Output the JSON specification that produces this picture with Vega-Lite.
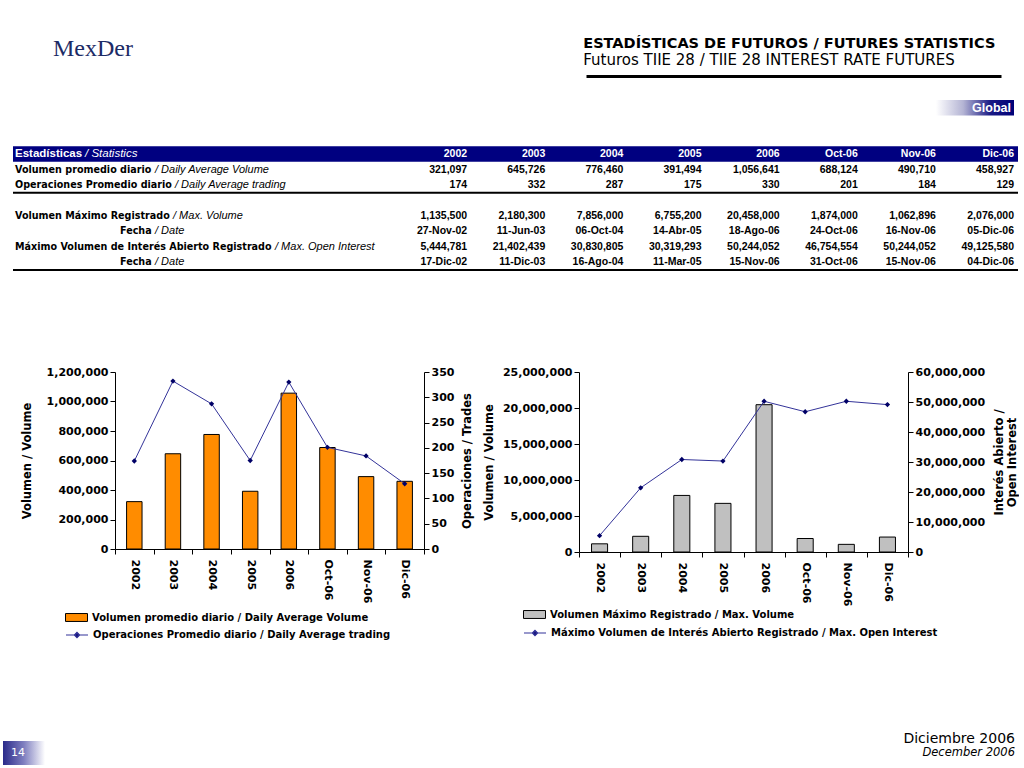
{
  "$schema": "https://vega.github.io/schema/vega-lite/v6.json",
  "padding": 0,
  "background": "white",
  "bounds": "flush",
  "spacing": 0,
  "config": {
    "view": {"stroke": null},
    "font": "DejaVu Sans",
    "axis": {
      "labelFont": "DejaVu Sans", "labelFontWeight": "bold", "labelFontSize": 11, "labelColor": "black",
      "titleFont": "DejaVu Sans", "titleFontWeight": "bold", "titleFontSize": 11.5, "titleColor": "black",
      "domainColor": "black", "tickColor": "black", "grid": false, "tickSize": 5, "labelPadding": 2, "titlePadding": 8
    },
    "legend": {
      "labelFont": "DejaVu Sans", "labelFontWeight": "bold", "labelFontSize": 10, "labelColor": "black", "labelLimit": 600,
      "labelOffset": 4, "symbolSize": 484, "symbolOpacity": 1, "orient": "none", "title": null
    }
  },
  "datasets": {
    "stats": [
      {"period": "2002", "avgVolume": 321097, "avgTrades": 174, "maxVolume": 1135500, "maxVolumeDate": "27-Nov-02", "maxOI": 5444781, "maxOIDate": "17-Dic-02"},
      {"period": "2003", "avgVolume": 645726, "avgTrades": 332, "maxVolume": 2180300, "maxVolumeDate": "11-Jun-03", "maxOI": 21402439, "maxOIDate": "11-Dic-03"},
      {"period": "2004", "avgVolume": 776460, "avgTrades": 287, "maxVolume": 7856000, "maxVolumeDate": "06-Oct-04", "maxOI": 30830805, "maxOIDate": "16-Ago-04"},
      {"period": "2005", "avgVolume": 391494, "avgTrades": 175, "maxVolume": 6755200, "maxVolumeDate": "14-Abr-05", "maxOI": 30319293, "maxOIDate": "11-Mar-05"},
      {"period": "2006", "avgVolume": 1056641, "avgTrades": 330, "maxVolume": 20458000, "maxVolumeDate": "18-Ago-06", "maxOI": 50244052, "maxOIDate": "15-Nov-06"},
      {"period": "Oct-06", "avgVolume": 688124, "avgTrades": 201, "maxVolume": 1874000, "maxVolumeDate": "24-Oct-06", "maxOI": 46754554, "maxOIDate": "31-Oct-06"},
      {"period": "Nov-06", "avgVolume": 490710, "avgTrades": 184, "maxVolume": 1062896, "maxVolumeDate": "16-Nov-06", "maxOI": 50244052, "maxOIDate": "15-Nov-06"},
      {"period": "Dic-06", "avgVolume": 458927, "avgTrades": 129, "maxVolume": 2076000, "maxVolumeDate": "05-Dic-06", "maxOI": 49125580, "maxOIDate": "04-Dic-06"}
    ],
    "labels": [
      {"row": "hdr", "level": "main", "es": "Estadísticas", "en": "/ Statistics"},
      {"row": "r1", "level": "main", "es": "Volumen promedio diario", "en": "/ Daily Average Volume"},
      {"row": "r2", "level": "main", "es": "Operaciones Promedio diario", "en": "/ Daily Average trading"},
      {"row": "r3", "level": "main", "es": "Volumen Máximo Registrado", "en": "/ Max. Volume"},
      {"row": "r4", "level": "sub", "es": "Fecha", "en": "/ Date"},
      {"row": "r5", "level": "main", "es": "Máximo Volumen de Interés Abierto Registrado", "en": "/ Max. Open Interest"},
      {"row": "r6", "level": "sub", "es": "Fecha", "en": "/ Date"}
    ],
    "tags": [{"tag": "Global", "period": "Dic-06"}],
    "page": [{"page": "14"}]
  },
  "vconcat": [
    {"width": 1, "height": 76, "data": {"values": [{}]}, "mark": {"type": "point", "opacity": 0}},
    {
      "hconcat": [
        {"width": 50, "height": 24, "data": {"values": [{}]}, "mark": {"type": "point", "opacity": 0}},
        {"width": 533, "height": 24, "data": {"values": [{}]}, "mark": {"type": "point", "opacity": 0},
         "title": {"text": "MexDer", "anchor": "start", "font": "Liberation Serif", "fontSize": 24, "fontWeight": "normal", "color": "#1C2B66", "offset": 15}},
        {"width": 415, "height": 24, "data": {"values": [{}]}, "mark": {"type": "point", "opacity": 0},
         "encoding": {"x": {"datum": 0, "type": "quantitative", "scale": {"domain": [0, 1]},
           "axis": {"orient": "top", "domain": true, "domainColor": "black", "domainWidth": 3, "ticks": false, "labels": false, "title": null, "grid": false}}},
         "title": {"text": "ESTADÍSTICAS DE FUTUROS / FUTURES STATISTICS", "subtitle": "Futuros TIIE 28 / TIIE 28 INTEREST RATE FUTURES",
           "anchor": "start", "font": "DejaVu Sans", "fontSize": 14.5, "fontWeight": "bold", "color": "black",
           "subtitleFont": "DejaVu Sans", "subtitleFontSize": 15, "subtitleColor": "black", "subtitlePadding": 2, "offset": 7}}
      ],
      "spacing": 0, "bounds": "flush"
    },
    {"width": 1, "height": 24, "data": {"values": [{}]}, "mark": {"type": "point", "opacity": 0}},
    {
      "hconcat": [
        {"width": 10, "height": 170, "data": {"values": [{}]}, "mark": {"type": "point", "opacity": 0}},
        {
          "width": 1005, "height": 170,
          "layer": [
            {"data": {"name": "labels"}, "transform": [{"filter": "datum.row === 'hdr'"}],
             "mark": {"type": "rect", "fill": "#000080"},
             "encoding": {"y": {"field": "row", "type": "nominal", "axis": null,
               "scale": {"type": "band", "domain": ["global", "s1", "s2", "hdr", "r1", "r2", "gap", "r3", "r4", "r5", "r6"], "paddingInner": 0, "paddingOuter": 0}}}},
            {"data": {"name": "labels"}, "transform": [{"filter": "datum.row === 'r2' || datum.row === 'r6'"}],
             "mark": {"type": "rule", "color": "black", "strokeWidth": 2},
             "encoding": {"y": {"field": "row", "type": "nominal", "bandPosition": 1}}},
            {"data": {"name": "tags"},
             "mark": {"type": "rect", "fill": {"gradient": "linear", "x1": 0, "x2": 1, "y1": 0, "y2": 0,
               "stops": [{"offset": 0, "color": "#FFFFFF"}, {"offset": 0.35, "color": "#B4B4D4"}, {"offset": 0.7, "color": "#1A1A84"}, {"offset": 1, "color": "#000078"}]}},
             "encoding": {"y": {"datum": "global", "type": "nominal"},
               "x": {"field": "period", "type": "ordinal", "axis": null,
                 "scale": {"type": "band", "domain": ["2002", "2003", "2004", "2005", "2006", "Oct-06", "Nov-06", "Dic-06"], "range": [376, 1001], "paddingInner": 0, "paddingOuter": 0}}}},
            {"data": {"name": "tags"},
             "mark": {"type": "text", "align": "right", "dx": -3, "font": "Liberation Sans", "fontWeight": "bold", "fontSize": 12.5, "color": "white"},
             "encoding": {"y": {"datum": "global", "type": "nominal"}, "text": {"field": "tag"},
               "x": {"field": "period", "type": "ordinal", "bandPosition": 1, "axis": null,
                 "scale": {"type": "band", "domain": ["2002", "2003", "2004", "2005", "2006", "Oct-06", "Nov-06", "Dic-06"], "range": [376, 1001], "paddingInner": 0, "paddingOuter": 0}}}},
            {"data": {"name": "stats"},
             "mark": {"type": "text", "align": "right", "font": "Liberation Sans", "fontWeight": "bold", "fontSize": 10.5, "color": "white"},
             "encoding": {"y": {"datum": "hdr", "type": "nominal"}, "text": {"field": "period"},
               "x": {"field": "period", "type": "ordinal", "bandPosition": 1, "axis": null,
                 "scale": {"type": "band", "domain": ["2002", "2003", "2004", "2005", "2006", "Oct-06", "Nov-06", "Dic-06"], "range": [376, 1001], "paddingInner": 0, "paddingOuter": 0}}}},
            {"data": {"name": "stats"},
             "mark": {"type": "text", "align": "right", "font": "Liberation Sans", "fontWeight": "bold", "fontSize": 10.5, "color": "black"},
             "encoding": {"y": {"datum": "r1", "type": "nominal"}, "text": {"field": "avgVolume", "type": "quantitative", "format": ","},
               "x": {"field": "period", "type": "ordinal", "bandPosition": 1, "axis": null,
                 "scale": {"type": "band", "domain": ["2002", "2003", "2004", "2005", "2006", "Oct-06", "Nov-06", "Dic-06"], "range": [376, 1001], "paddingInner": 0, "paddingOuter": 0}}}},
            {"data": {"name": "stats"},
             "mark": {"type": "text", "align": "right", "font": "Liberation Sans", "fontWeight": "bold", "fontSize": 10.5, "color": "black"},
             "encoding": {"y": {"datum": "r2", "type": "nominal"}, "text": {"field": "avgTrades", "type": "quantitative", "format": ","},
               "x": {"field": "period", "type": "ordinal", "bandPosition": 1, "axis": null,
                 "scale": {"type": "band", "domain": ["2002", "2003", "2004", "2005", "2006", "Oct-06", "Nov-06", "Dic-06"], "range": [376, 1001], "paddingInner": 0, "paddingOuter": 0}}}},
            {"data": {"name": "stats"},
             "mark": {"type": "text", "align": "right", "font": "Liberation Sans", "fontWeight": "bold", "fontSize": 10.5, "color": "black"},
             "encoding": {"y": {"datum": "r3", "type": "nominal"}, "text": {"field": "maxVolume", "type": "quantitative", "format": ","},
               "x": {"field": "period", "type": "ordinal", "bandPosition": 1, "axis": null,
                 "scale": {"type": "band", "domain": ["2002", "2003", "2004", "2005", "2006", "Oct-06", "Nov-06", "Dic-06"], "range": [376, 1001], "paddingInner": 0, "paddingOuter": 0}}}},
            {"data": {"name": "stats"},
             "mark": {"type": "text", "align": "right", "font": "Liberation Sans", "fontWeight": "bold", "fontSize": 10.5, "color": "black"},
             "encoding": {"y": {"datum": "r4", "type": "nominal"}, "text": {"field": "maxVolumeDate", "type": "nominal"},
               "x": {"field": "period", "type": "ordinal", "bandPosition": 1, "axis": null,
                 "scale": {"type": "band", "domain": ["2002", "2003", "2004", "2005", "2006", "Oct-06", "Nov-06", "Dic-06"], "range": [376, 1001], "paddingInner": 0, "paddingOuter": 0}}}},
            {"data": {"name": "stats"},
             "mark": {"type": "text", "align": "right", "font": "Liberation Sans", "fontWeight": "bold", "fontSize": 10.5, "color": "black"},
             "encoding": {"y": {"datum": "r5", "type": "nominal"}, "text": {"field": "maxOI", "type": "quantitative", "format": ","},
               "x": {"field": "period", "type": "ordinal", "bandPosition": 1, "axis": null,
                 "scale": {"type": "band", "domain": ["2002", "2003", "2004", "2005", "2006", "Oct-06", "Nov-06", "Dic-06"], "range": [376, 1001], "paddingInner": 0, "paddingOuter": 0}}}},
            {"data": {"name": "stats"},
             "mark": {"type": "text", "align": "right", "font": "Liberation Sans", "fontWeight": "bold", "fontSize": 10.5, "color": "black"},
             "encoding": {"y": {"datum": "r6", "type": "nominal"}, "text": {"field": "maxOIDate", "type": "nominal"},
               "x": {"field": "period", "type": "ordinal", "bandPosition": 1, "axis": null,
                 "scale": {"type": "band", "domain": ["2002", "2003", "2004", "2005", "2006", "Oct-06", "Nov-06", "Dic-06"], "range": [376, 1001], "paddingInner": 0, "paddingOuter": 0}}}},
            {"data": {"name": "labels"}, "transform": [{"filter": "datum.row === 'hdr'"}],
             "mark": {"type": "text", "align": "left", "font": "Liberation Sans", "fontWeight": "bold", "fontSize": 11.5, "color": "white"},
             "encoding": {"y": {"field": "row", "type": "nominal"}, "text": {"field": "es"},
               "x": {"field": "level", "type": "ordinal", "axis": null, "scale": {"type": "point", "domain": ["main", "sub"], "range": [2, 107], "padding": 0}}}},
            {"data": {"name": "labels"}, "transform": [{"filter": "datum.row === 'hdr'"}],
             "mark": {"type": "text", "align": "left", "dx": 70, "font": "Liberation Sans", "fontStyle": "italic", "fontSize": 11.5, "color": "white"},
             "encoding": {"y": {"field": "row", "type": "nominal"}, "text": {"field": "en"},
               "x": {"field": "level", "type": "ordinal", "axis": null, "scale": {"type": "point", "domain": ["main", "sub"], "range": [2, 107], "padding": 0}}}},
            {"data": {"name": "labels"}, "transform": [{"filter": "datum.row !== 'hdr'"}],
             "mark": {"type": "text", "align": "left", "font": "DejaVu Sans", "fontWeight": "bold", "fontSize": 9.6, "color": "black"},
             "encoding": {"y": {"field": "row", "type": "nominal"}, "text": {"field": "es"},
               "x": {"field": "level", "type": "ordinal", "axis": null, "scale": {"type": "point", "domain": ["main", "sub"], "range": [2, 107], "padding": 0}}}},
            {"data": {"name": "labels"}, "transform": [{"filter": "datum.row === 'r1'"}],
             "mark": {"type": "text", "align": "left", "dx": 140, "font": "Liberation Sans", "fontStyle": "italic", "fontSize": 11, "color": "black"},
             "encoding": {"y": {"field": "row", "type": "nominal"}, "text": {"field": "en"},
               "x": {"field": "level", "type": "ordinal", "axis": null, "scale": {"type": "point", "domain": ["main", "sub"], "range": [2, 107], "padding": 0}}}},
            {"data": {"name": "labels"}, "transform": [{"filter": "datum.row === 'r2'"}],
             "mark": {"type": "text", "align": "left", "dx": 160, "font": "Liberation Sans", "fontStyle": "italic", "fontSize": 11, "color": "black"},
             "encoding": {"y": {"field": "row", "type": "nominal"}, "text": {"field": "en"},
               "x": {"field": "level", "type": "ordinal", "axis": null, "scale": {"type": "point", "domain": ["main", "sub"], "range": [2, 107], "padding": 0}}}},
            {"data": {"name": "labels"}, "transform": [{"filter": "datum.row === 'r3'"}],
             "mark": {"type": "text", "align": "left", "dx": 158, "font": "Liberation Sans", "fontStyle": "italic", "fontSize": 11, "color": "black"},
             "encoding": {"y": {"field": "row", "type": "nominal"}, "text": {"field": "en"},
               "x": {"field": "level", "type": "ordinal", "axis": null, "scale": {"type": "point", "domain": ["main", "sub"], "range": [2, 107], "padding": 0}}}},
            {"data": {"name": "labels"}, "transform": [{"filter": "datum.es === 'Fecha'"}],
             "mark": {"type": "text", "align": "left", "dx": 35, "font": "Liberation Sans", "fontStyle": "italic", "fontSize": 11, "color": "black"},
             "encoding": {"y": {"field": "row", "type": "nominal"}, "text": {"field": "en"},
               "x": {"field": "level", "type": "ordinal", "axis": null, "scale": {"type": "point", "domain": ["main", "sub"], "range": [2, 107], "padding": 0}}}},
            {"data": {"name": "labels"}, "transform": [{"filter": "datum.row === 'r5'"}],
             "mark": {"type": "text", "align": "left", "dx": 260, "font": "Liberation Sans", "fontStyle": "italic", "fontSize": 11, "color": "black"},
             "encoding": {"y": {"field": "row", "type": "nominal"}, "text": {"field": "en"},
               "x": {"field": "level", "type": "ordinal", "axis": null, "scale": {"type": "point", "domain": ["main", "sub"], "range": [2, 107], "padding": 0}}}}
          ],
          "resolve": {"scale": {"x": "independent"}}
        }
      ],
      "spacing": 0, "bounds": "flush"
    },
    {"width": 1, "height": 272, "data": {"values": [{}]}, "mark": {"type": "point", "opacity": 0}},
    {
      "hconcat": [
        {"width": 112, "height": 177, "data": {"values": [{}]}, "mark": {"type": "point", "opacity": 0}},
        {
          "width": 309, "height": 177,
          "data": {"name": "stats"},
          "encoding": {"x": {"field": "period", "type": "ordinal", "sort": null, "scale": {"paddingInner": 0, "paddingOuter": 0},
            "axis": {"title": null, "labelAngle": 90, "tickBand": "extent", "labelPadding": 5, "labelOverlap": false}}},
          "layer": [
            {"mark": {"type": "bar", "width": {"band": 0.4}, "stroke": "black", "strokeWidth": 1},
             "encoding": {
               "y": {"field": "avgVolume", "type": "quantitative", "scale": {"domain": [0, 1200000], "nice": false},
                 "axis": {"orient": "left", "title": "Volumen / Volume", "titlePadding": 14, "values": [0, 200000, 400000, 600000, 800000, 1000000, 1200000], "format": ",.0f"}},
               "fill": {"datum": "Volumen promedio diario / Daily Average Volume", "type": "nominal",
                 "scale": {"domain": ["Volumen promedio diario / Daily Average Volume"], "range": ["#FF8C00"]},
                 "legend": {"orient": "none", "legendX": -50, "legendY": 234, "symbolType": "M-1,-0.36H1V0.36H-1Z",
                   "symbolStrokeColor": "black", "symbolStrokeWidth": 1, "symbolFillColor": "#FF8C00"}}
             }},
            {
              "encoding": {"y": {"field": "avgTrades", "type": "quantitative", "scale": {"domain": [0, 350], "nice": false},
                "axis": {"orient": "right", "title": "Operaciones / Trades", "titleAngle": 270, "titleBaseline": "top", "titlePadding": 8, "values": [0, 50, 100, 150, 200, 250, 300, 350], "format": ",.0f"}}},
              "layer": [
                {"mark": {"type": "line", "strokeWidth": 1},
                 "encoding": {"stroke": {"datum": "Operaciones Promedio diario / Daily Average trading", "type": "nominal",
                   "scale": {"domain": ["Operaciones Promedio diario / Daily Average trading"], "range": ["#333399"]},
                   "legend": {"orient": "none", "legendX": -50, "legendY": 251, "symbolType": "M-1,0H1M0,-0.24L0.24,0L0,0.24L-0.24,0Z",
                     "symbolFillColor": "#000066", "symbolStrokeWidth": 1.2}}}},
                {"mark": {"type": "point", "shape": "diamond", "filled": true, "size": 28, "color": "#000066", "opacity": 1}}
              ]
            }
          ],
          "resolve": {"scale": {"y": "independent"}}
        },
        {"width": 155, "height": 177, "data": {"values": [{}]}, "mark": {"type": "point", "opacity": 0}},
        {
          "width": 329, "height": 180,
          "data": {"name": "stats"},
          "encoding": {"x": {"field": "period", "type": "ordinal", "sort": null, "scale": {"paddingInner": 0, "paddingOuter": 0},
            "axis": {"title": null, "labelAngle": 90, "tickBand": "extent", "labelPadding": 5, "labelOverlap": false}}},
          "layer": [
            {"mark": {"type": "bar", "width": {"band": 0.39}, "stroke": "black", "strokeWidth": 1},
             "encoding": {
               "y": {"field": "maxVolume", "type": "quantitative", "scale": {"domain": [0, 25000000], "nice": false},
                 "axis": {"orient": "left", "title": "Volumen / Volume", "values": [0, 5000000, 10000000, 15000000, 20000000, 25000000], "format": ",.0f"}},
               "fill": {"datum": "Volumen Máximo Registrado / Max. Volume", "type": "nominal",
                 "scale": {"domain": ["Volumen Máximo Registrado / Max. Volume"], "range": ["#C0C0C0"]},
                 "legend": {"orient": "none", "legendX": -56, "legendY": 231, "symbolType": "M-1,-0.36H1V0.36H-1Z",
                   "symbolStrokeColor": "black", "symbolStrokeWidth": 1, "symbolFillColor": "#C0C0C0"}}
             }},
            {
              "encoding": {"y": {"field": "maxOI", "type": "quantitative", "scale": {"domain": [0, 60000000], "nice": false},
                "axis": {"orient": "right", "title": ["Interés Abierto /", "Open Interest"], "titleAngle": 270, "titlePadding": 6,
                  "values": [0, 10000000, 20000000, 30000000, 40000000, 50000000, 60000000], "format": ",.0f"}}},
              "layer": [
                {"mark": {"type": "line", "strokeWidth": 1},
                 "encoding": {"stroke": {"datum": "Máximo Volumen de Interés Abierto Registrado / Max. Open Interest", "type": "nominal",
                   "scale": {"domain": ["Máximo Volumen de Interés Abierto Registrado / Max. Open Interest"], "range": ["#333399"]},
                   "legend": {"orient": "none", "legendX": -56, "legendY": 249, "symbolType": "M-1,0H1M0,-0.24L0.24,0L0,0.24L-0.24,0Z",
                     "symbolFillColor": "#000066", "symbolStrokeWidth": 1.2}}}},
                {"mark": {"type": "point", "shape": "diamond", "filled": true, "size": 28, "color": "#000066", "opacity": 1}}
              ]
            }
          ],
          "resolve": {"scale": {"y": "independent"}}
        }
      ],
      "spacing": 0, "bounds": "flush",
      "resolve": {"scale": {"fill": "independent", "stroke": "independent"}, "legend": {"fill": "independent", "stroke": "independent"}}
    },
    {"width": 1, "height": 369, "data": {"values": [{}]}, "mark": {"type": "point", "opacity": 0}},
    {
      "width": 42, "height": 24,
      "data": {"name": "page"},
      "layer": [
        {"mark": {"type": "rect", "fill": {"gradient": "linear", "x1": 0, "x2": 1, "y1": 0, "y2": 0,
          "stops": [{"offset": 0, "color": "#2A2A8A"}, {"offset": 0.5, "color": "#8080C0"}, {"offset": 1, "color": "#FFFFFF"}]}},
         "encoding": {}},
        {"mark": {"type": "text", "color": "white", "font": "DejaVu Sans", "fontSize": 11, "dx": -6},
         "encoding": {"text": {"field": "page"}}}
      ]
    },
    {
      "hconcat": [
        {"width": 812, "height": 1, "data": {"values": [{}]}, "mark": {"type": "point", "opacity": 0}},
        {"width": 200, "height": 1, "data": {"values": [{}]}, "mark": {"type": "point", "opacity": 0},
         "title": {"text": "Diciembre 2006", "subtitle": "December 2006", "anchor": "end", "font": "DejaVu Sans", "fontSize": 14, "fontWeight": "normal", "color": "black",
           "subtitleFont": "DejaVu Sans", "subtitleFontSize": 11.5, "subtitleFontStyle": "italic", "subtitleColor": "black", "subtitlePadding": 1, "offset": 4}}
      ],
      "spacing": 0, "bounds": "flush"
    }
  ]
}
